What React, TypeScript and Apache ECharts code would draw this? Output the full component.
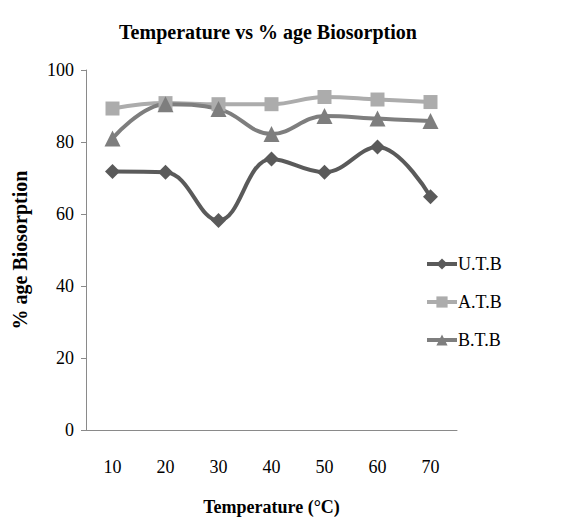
import React, { useEffect, useRef } from "react";
import * as echarts from "echarts";

const categories = ["10", "20", "30", "40", "50", "60", "70"];
const utb = [71.8, 71.6, 58.2, 75.3, 71.6, 78.6, 64.8];
const atb = [89.3, 90.8, 90.5, 90.5, 92.5, 91.8, 91.1];
const btb = [81.0, 90.5, 89.2, 82.2, 87.2, 86.5, 85.8];

const FONT = "Liberation Serif";

export default function App() {
  const ref = useRef<HTMLDivElement>(null);
  useEffect(() => {
    if (!ref.current) return;
    const chart = echarts.init(ref.current, undefined, { renderer: "svg" });
    const mk = (name: string, data: number[], color: string, symbol: string, size: number) => ({
      name,
      type: "line",
      data,
      smooth: 0.4,
      symbol,
      symbolSize: size,
      lineStyle: { color, width: 4 },
      itemStyle: { color },
    });
    chart.setOption({
      animation: false,
      backgroundColor: "#ffffff",
      title: {
        text: "Temperature vs % age Biosorption",
        left: 263,
        textAlign: "center",
        top: 17,
        textStyle: { fontFamily: FONT, fontWeight: "bold", fontSize: 20, color: "#000" },
      },
      grid: { left: 86, right: 112, top: 70, bottom: 88, containLabel: false, outerBoundsMode: "none" },
      legend: {
        orient: "vertical",
        left: 420,
        top: 250,
        itemGap: 20,
        itemWidth: 30,
        itemHeight: 14,
        lineStyle: { width: 4 },
        textStyle: { fontFamily: FONT, fontSize: 18, color: "#000", padding: [0, 0, 0, -4] },
        data: ["U.T.B", "A.T.B", "B.T.B"],
      },
      xAxis: {
        type: "category",
        data: categories,
        boundaryGap: true,
        name: "Temperature (°C)",
        nameLocation: "middle",
        nameGap: 68,
        nameTextStyle: { fontFamily: FONT, fontWeight: "bold", fontSize: 18, color: "#000" },
        axisLine: { lineStyle: { color: "#8a8a8a", width: 1 } },
        axisTick: { show: false },
        axisLabel: { fontFamily: FONT, fontSize: 18, color: "#000", margin: 28 },
      },
      yAxis: {
        type: "value",
        min: 0,
        max: 100,
        interval: 20,
        name: "% age Biosorption",
        nameLocation: "middle",
        nameGap: 56,
        nameTextStyle: { fontFamily: FONT, fontWeight: "bold", fontSize: 20, color: "#000" },
        axisLine: { show: true, lineStyle: { color: "#8a8a8a", width: 1 } },
        axisTick: { show: true, length: 5, lineStyle: { color: "#8a8a8a" } },
        splitLine: { show: false },
        axisLabel: { fontFamily: FONT, fontSize: 18, color: "#000", margin: 12 },
      },
      series: [
        mk("U.T.B", utb, "#5a5a5a", "diamond", 15),
        mk("A.T.B", atb, "#acacac", "rect", 14),
        mk("B.T.B", btb, "#7e7e7e", "triangle", 16),
      ],
    });
    return () => chart.dispose();
  }, []);
  return <div ref={ref} style={{ width: 569, height: 518, position: "absolute", left: 0, top: 0 }} />;
}
